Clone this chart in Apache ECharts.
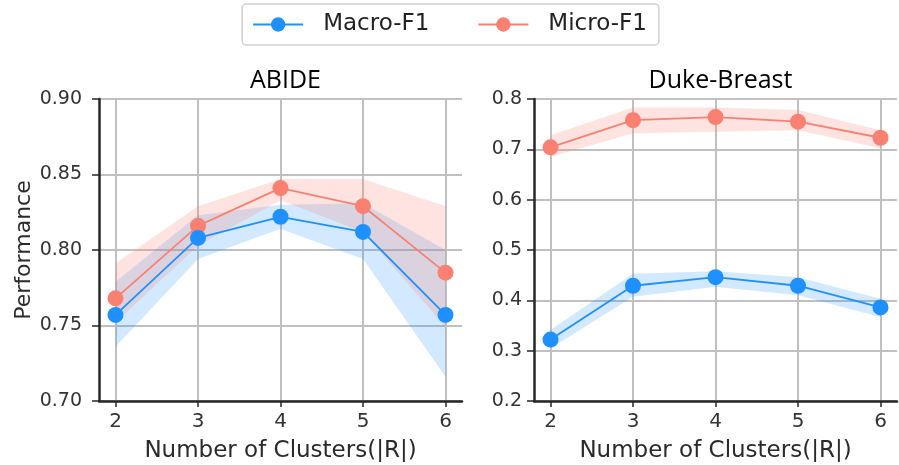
<!DOCTYPE html>
<html>
<head>
<meta charset="utf-8">
<script src="https://cdn.jsdelivr.net/npm/echarts@6/dist/echarts.min.js"></script>
<style>
  html, body { margin: 0; padding: 0; background: #fff; }
  #chart { width: 899px; height: 465px; }
</style>
</head>
<body>
<div id="chart"></div>
<script>
const clusters = ["2", "3", "4", "5", "6"];

// ABIDE
const abideMacro = [0.757, 0.808, 0.822, 0.812, 0.757];
const abideMacroLow = [0.736, 0.794, 0.814, 0.794, 0.716];
const abideMacroHigh = [0.779, 0.823, 0.830, 0.831, 0.800];
const abideMicro = [0.768, 0.816, 0.841, 0.829, 0.785];
const abideMicroLow = [0.752, 0.803, 0.833, 0.812, 0.749];
const abideMicroHigh = [0.791, 0.829, 0.847, 0.847, 0.829];
const abideTicks = [0.7, 0.75, 0.8, 0.85, 0.9];

// Duke-Breast
const dukeMacro = [0.322, 0.429, 0.446, 0.429, 0.386];
const dukeMacroLow = [0.305, 0.407, 0.427, 0.410, 0.367];
const dukeMacroHigh = [0.341, 0.453, 0.458, 0.446, 0.403];
const dukeMicro = [0.704, 0.758, 0.764, 0.755, 0.723];
const dukeMicroLow = [0.685, 0.732, 0.735, 0.738, 0.702];
const dukeMicroHigh = [0.728, 0.783, 0.783, 0.778, 0.738];
const dukeTicks = [0.2, 0.3, 0.4, 0.5, 0.6, 0.7, 0.8];

const BLUE = "#1e90ff";
const RED = "#fa8072";
const FONT = "DejaVu Sans";
const gridColor = "#c0c0c0";
const axisDark = "#262626";

const chart = echarts.init(document.getElementById("chart"));

// outer grid = full matplotlib axes (xlim 1.8..6.2), inner grid = x from 2 to 6
const panels = [
  { title: "ABIDE", left: 99, ticks: abideTicks, dec: 2, name: "Performance", margin: 17,
    macro: abideMacro, macroLow: abideMacroLow, macroHigh: abideMacroHigh,
    micro: abideMicro, microLow: abideMicroLow, microHigh: abideMicroHigh },
  { title: "Duke-Breast", left: 534, ticks: dukeTicks, dec: 1, name: "", margin: 12,
    macro: dukeMacro, macroLow: dukeMacroLow, macroHigh: dukeMacroHigh,
    micro: dukeMicro, microLow: dukeMicroLow, microHigh: dukeMicroHigh }
];

const step = 82.5;
const grid = [], xAxis = [], yAxis = [], series = [], title = [];

panels.forEach((p, i) => {
  const outerW = step * 4.4;
  const innerLeft = p.left + step * 0.2;
  const yMin = p.ticks[0], yMax = p.ticks[p.ticks.length - 1];
  const yInt = p.ticks[1] - p.ticks[0];

  grid.push({ left: p.left, top: 99, width: outerW, height: 302, outerBoundsMode: "none" });
  grid.push({ left: innerLeft, top: 99, width: step * 4, height: 302, outerBoundsMode: "none" });

  title.push({
    text: p.title,
    left: p.left + outerW / 2, top: 63, textAlign: "center",
    textStyle: { fontFamily: "Open Sans", fontSize: 25, fontWeight: "normal", color: "#000" }
  });

  // outer axes
  xAxis.push({
    gridIndex: 2 * i, type: "value", min: 0, max: 1,
    axisLine: { show: true, lineStyle: { color: axisDark, width: 2.5 } },
    axisTick: { show: false }, axisLabel: { show: false }, splitLine: { show: false }
  });
  yAxis.push({
    gridIndex: 2 * i, type: "value", min: yMin, max: yMax, interval: yInt,
    name: p.name, nameLocation: "middle", nameGap: 64, nameRotate: 90,
    nameTextStyle: { fontFamily: FONT, fontSize: 22, color: "#2a2a2a" },
    axisLine: { show: true, lineStyle: { color: axisDark, width: 2.5 } },
    axisTick: { show: true, length: 7, lineStyle: { color: axisDark, width: 1.5 } },
    axisLabel: { fontFamily: FONT, fontSize: 19, color: "#333", margin: p.margin,
      formatter: v => v.toFixed(p.dec) },
    splitLine: { show: true, lineStyle: { color: gridColor, width: 2 } }
  });

  // inner axes
  xAxis.push({
    gridIndex: 2 * i + 1, type: "category", data: clusters, boundaryGap: false,
    name: "Number of Clusters(|R|)", nameLocation: "middle", nameGap: 39,
    nameTextStyle: { fontFamily: FONT, fontSize: 23, color: "#2a2a2a" },
    axisLine: { show: false },
    axisTick: { show: true, length: 6, lineStyle: { color: axisDark, width: 1.5 } },
    axisLabel: { fontFamily: FONT, fontSize: 20, color: "#333", margin: 11 },
    splitLine: { show: true, lineStyle: { color: gridColor, width: 2 } }
  });
  yAxis.push({
    gridIndex: 2 * i + 1, type: "value", min: yMin, max: yMax, show: false
  });

  const ax = 2 * i + 1;
  const band = (low, high, color, key) => {
    series.push({
      type: "line", xAxisIndex: ax, yAxisIndex: ax, stack: key + i,
      data: low, symbol: "none", lineStyle: { opacity: 0 }, silent: true, z: 1
    });
    series.push({
      type: "line", xAxisIndex: ax, yAxisIndex: ax, stack: key + i,
      data: high.map((h, k) => +(h - low[k]).toFixed(4)),
      symbol: "none", lineStyle: { opacity: 0 }, silent: true,
      areaStyle: { color: color, opacity: 1 }, z: 1
    });
  };
  band(p.macroLow, p.macroHigh, "rgba(30,144,255,0.2)", "macro");
  band(p.microLow, p.microHigh, "rgba(250,128,114,0.22)", "micro");

  const line = (name, data, color) => {
    series.push({
      name: name, type: "line", xAxisIndex: ax, yAxisIndex: ax, data: data,
      symbol: "circle", symbolSize: 16, z: 3,
      itemStyle: { color: color }, lineStyle: { color: color, width: 1.8 }
    });
  };
  line("Micro-F1", p.micro, RED);
  line("Macro-F1", p.macro, BLUE);
});

chart.setOption({
  animation: false,
  backgroundColor: "#fff",
  title: title,
  legend: {
    data: ["Macro-F1", "Micro-F1"],
    left: "center", top: 4,
    padding: [9, 12, 9, 10],
    itemGap: 48, itemWidth: 50, itemHeight: 18,
    borderColor: "#d0d0d0", borderWidth: 1.5, borderRadius: 4,
    textStyle: { fontFamily: FONT, fontSize: 23, color: "#222", padding: [0, 0, 0, 15] }
  },
  grid: grid,
  xAxis: xAxis,
  yAxis: yAxis,
  series: series
});
</script>
</body>
</html>
